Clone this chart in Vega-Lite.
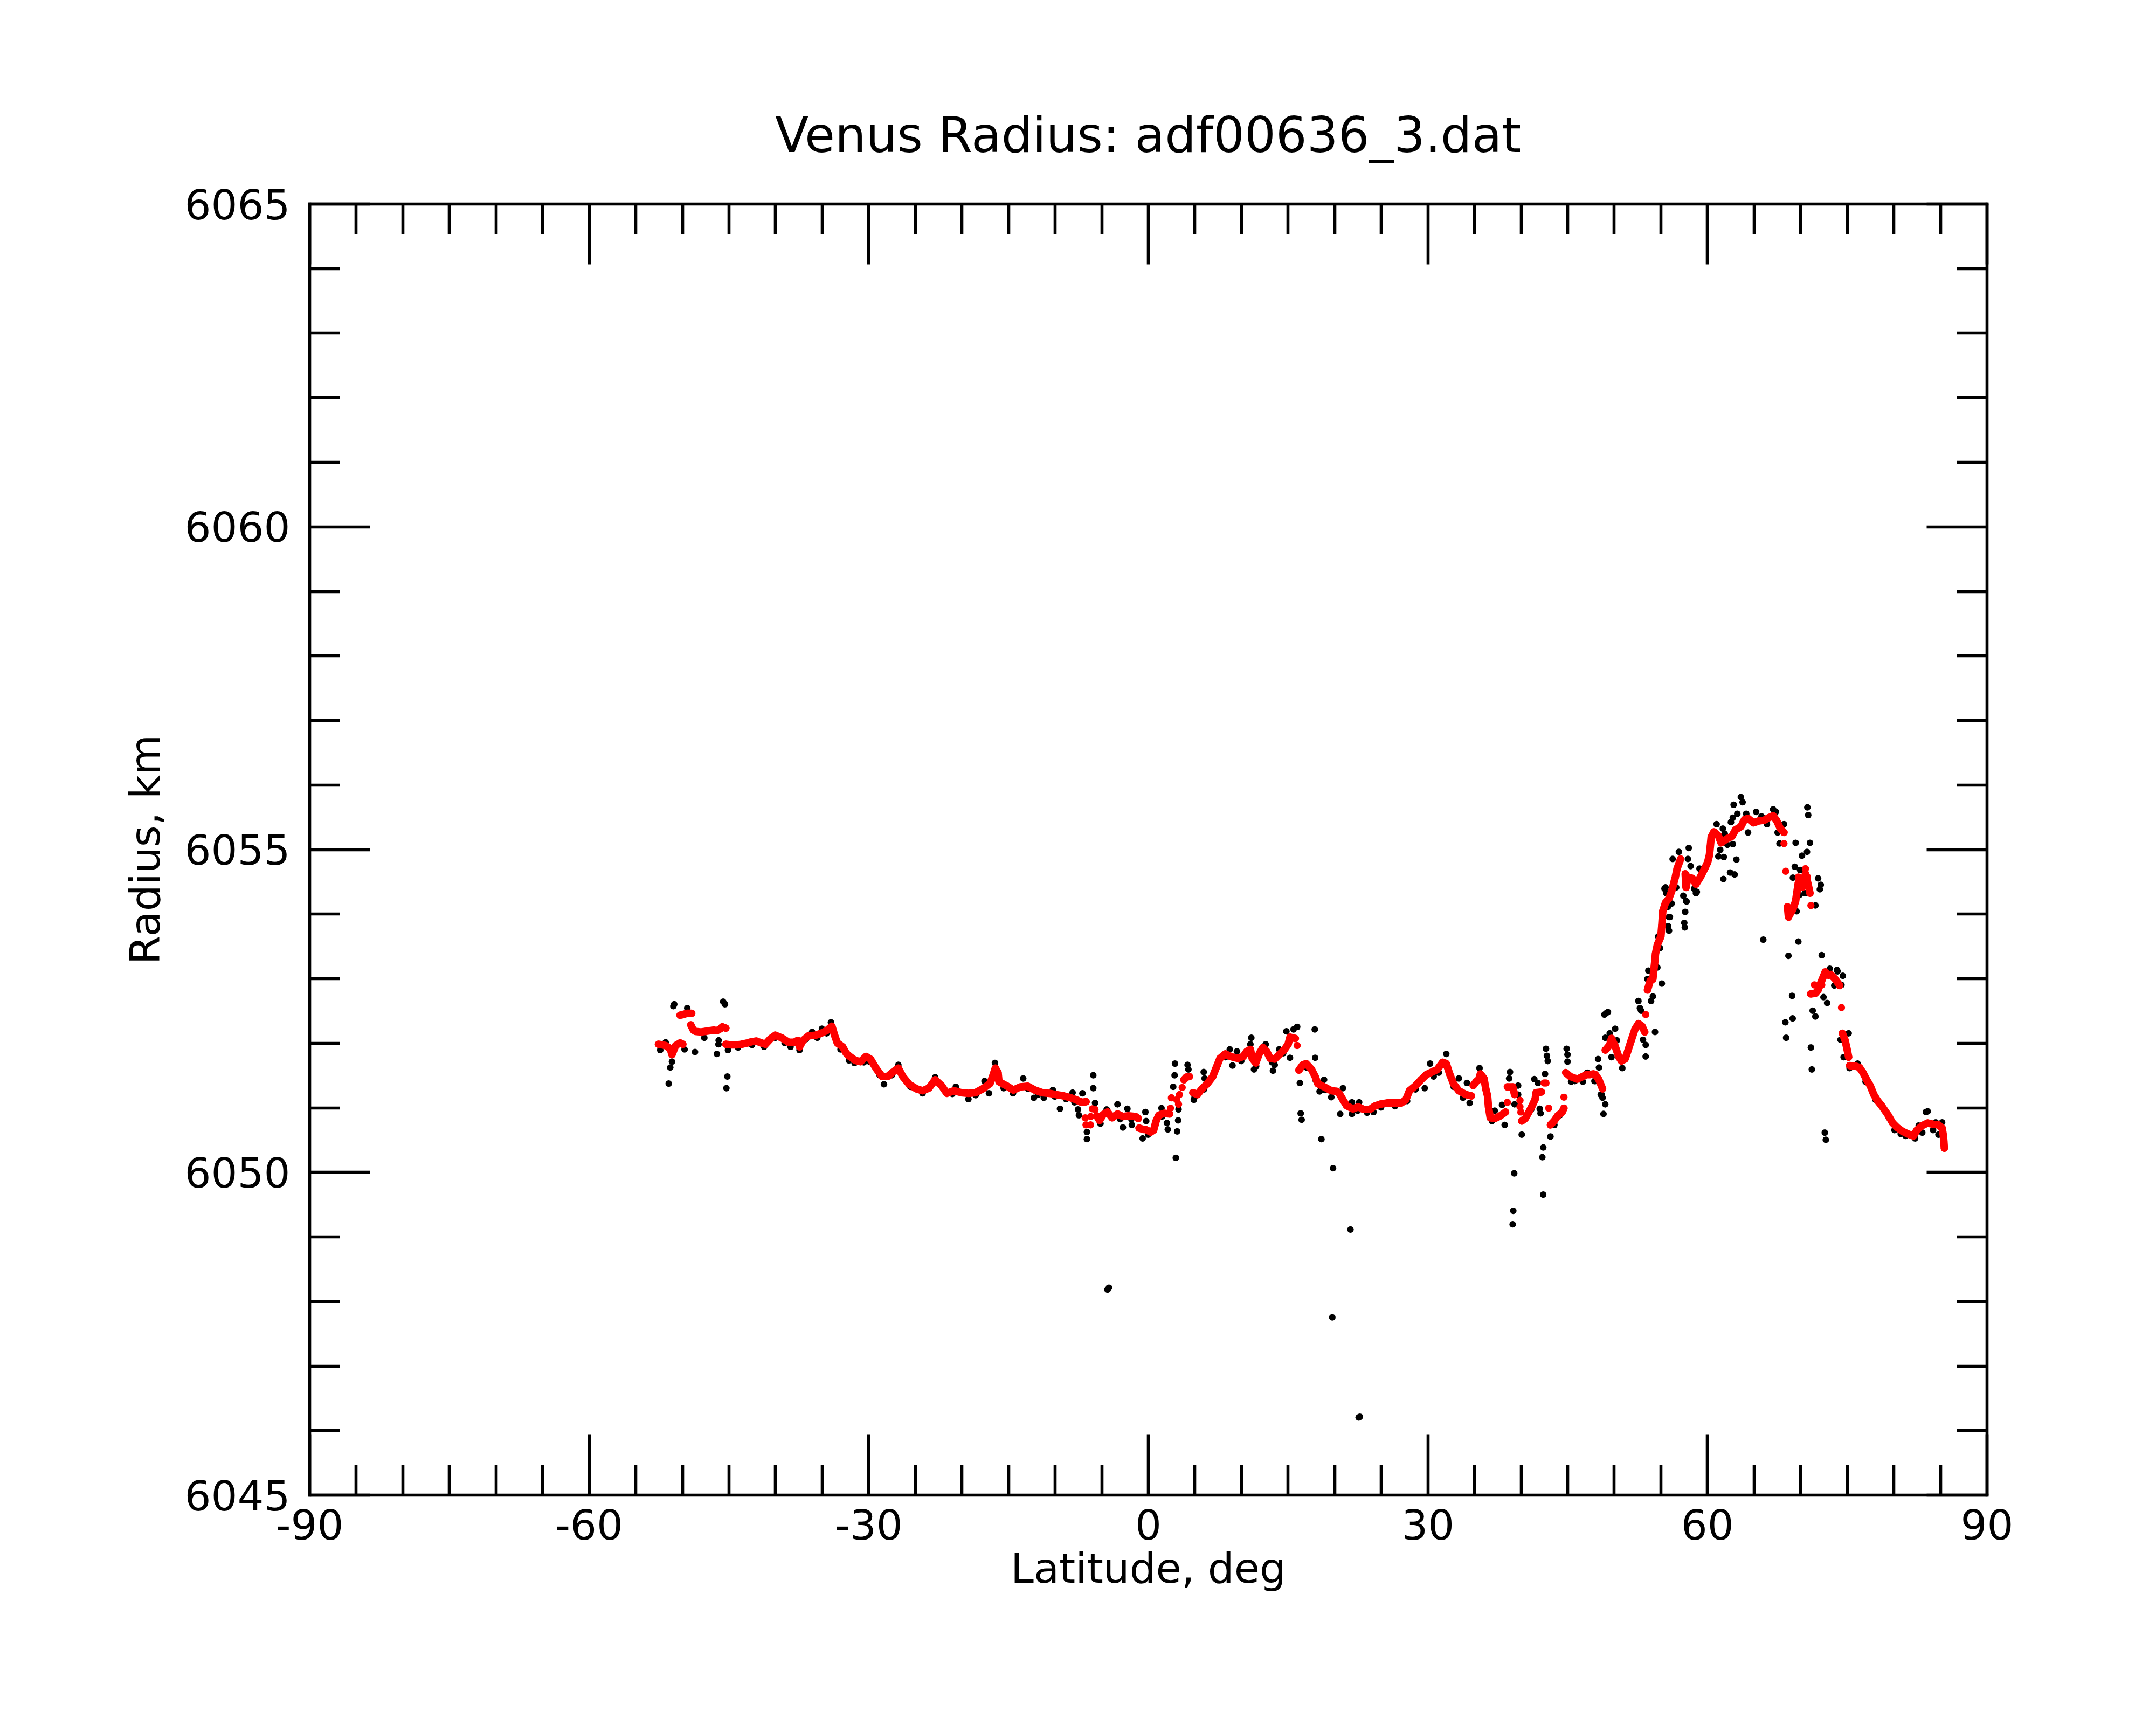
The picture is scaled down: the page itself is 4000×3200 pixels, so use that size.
{
  "$schema": "https://vega.github.io/schema/vega-lite/v6.json",
  "description": "Venus radius vs latitude, raw (black) and smoothed (red) samples",
  "autosize": {"type": "none"},
  "padding": {"left": 574, "top": 378, "right": 314, "bottom": 427},
  "width": 3112,
  "height": 2395,
  "background": "white",
  "config": {"view": {"stroke": null}},
  "title": {"text": "Venus Radius: adf00636_3.dat", "font": "DejaVu Sans", "fontSize": 91, "fontWeight": "normal", "color": "black", "baseline": "alphabetic", "anchor": "middle", "offset": -29},
  "datasets": {
    "raw": [
      {"lat":-52.35,"r":6051.89},{"lat":-51.77,"r":6052.01},{"lat":-50.94,"r":6052.57},{"lat":-50.85,"r":6052.6},{"lat":-49.45,"r":6052.54},
      {"lat":-49.74,"r":6051.9},{"lat":-48.62,"r":6051.86},{"lat":-47.62,"r":6052.08},{"lat":-46.27,"r":6051.83},{"lat":-46.08,"r":6052.04},
      {"lat":-46.1,"r":6051.98},{"lat":-45.6,"r":6052.64},{"lat":-45.4,"r":6052.6},{"lat":-45.08,"r":6051.89},{"lat":-51.09,"r":6051.71},
      {"lat":-51.28,"r":6051.62},{"lat":-51.44,"r":6051.37},{"lat":-45.15,"r":6051.48},{"lat":-45.25,"r":6051.3},{"lat":-38.37,"r":6051.94},
      {"lat":-37.4,"r":6051.89},{"lat":-36.05,"r":6052.17},{"lat":-35.0,"r":6052.22},{"lat":-34.03,"r":6052.32},{"lat":-32.1,"r":6051.73},
      {"lat":-28.34,"r":6051.36},{"lat":-44.0,"r":6051.93},{"lat":-42.5,"r":6051.97},{"lat":-41.2,"r":6051.94},{"lat":-40.0,"r":6052.08},
      {"lat":-39.0,"r":6052.0},{"lat":-36.7,"r":6052.06},{"lat":-35.5,"r":6052.08},{"lat":-34.5,"r":6052.15},{"lat":-33.0,"r":6051.9},
      {"lat":-31.5,"r":6051.69},{"lat":-30.5,"r":6051.7},{"lat":-29.9,"r":6051.71},{"lat":-28.8,"r":6051.5},
      {"lat":-26.8,"r":6051.66},{"lat":-22.85,"r":6051.47},{"lat":-20.63,"r":6051.32},{"lat":-19.28,"r":6051.13},{"lat":-17.55,"r":6051.41},
      {"lat":-17.07,"r":6051.22},{"lat":-16.43,"r":6051.69},{"lat":-13.4,"r":6051.45},{"lat":-12.25,"r":6051.15},{"lat":-11.19,"r":6051.15},
      {"lat":-10.22,"r":6051.27},{"lat":-9.45,"r":6050.98},{"lat":-8.1,"r":6051.23},{"lat":-7.04,"r":6051.22},{"lat":-7.52,"r":6050.97},
      {"lat":-7.42,"r":6050.88},{"lat":-5.88,"r":6051.5},{"lat":-5.88,"r":6051.3},{"lat":-5.69,"r":6051.07},{"lat":-6.56,"r":6050.62},
      {"lat":-6.56,"r":6050.51},{"lat":-4.44,"r":6050.97},{"lat":-5.11,"r":6050.75},
      {"lat":-27.5,"r":6051.5},{"lat":-25.5,"r":6051.32},{"lat":-24.2,"r":6051.22},{"lat":-22.0,"r":6051.3},{"lat":-21.0,"r":6051.21},
      {"lat":-18.5,"r":6051.19},{"lat":-15.5,"r":6051.3},{"lat":-14.5,"r":6051.22},{"lat":-12.9,"r":6051.29},{"lat":-11.8,"r":6051.2},
      {"lat":-10.0,"r":6051.17},{"lat":-8.8,"r":6051.13},{"lat":-7.9,"r":6051.08},
      {"lat":-4.35,"r":6048.18},{"lat":-4.2,"r":6048.21},
      {"lat":-3.28,"r":6051.05},{"lat":-2.7,"r":6050.69},{"lat":-2.22,"r":6050.98},{"lat":-1.74,"r":6050.73},{"lat":-0.29,"r":6050.93},
      {"lat":-0.58,"r":6050.52},{"lat":-0.2,"r":6050.79},{"lat":1.44,"r":6050.99},{"lat":2.02,"r":6050.76},{"lat":2.12,"r":6050.66},
      {"lat":2.89,"r":6051.68},{"lat":2.85,"r":6051.5},{"lat":2.7,"r":6051.32},{"lat":3.27,"r":6050.97},{"lat":3.23,"r":6050.8},
      {"lat":3.12,"r":6050.63},{"lat":2.98,"r":6050.22},{"lat":4.24,"r":6051.66},{"lat":4.33,"r":6051.59},{"lat":5.97,"r":6051.55},
      {"lat":6.07,"r":6051.45},{"lat":4.91,"r":6051.12},{"lat":8.77,"r":6051.9},{"lat":9.54,"r":6051.87},{"lat":9.06,"r":6051.65},
      {"lat":11.08,"r":6052.08},{"lat":10.98,"r":6051.98},{"lat":11.37,"r":6051.59},{"lat":12.62,"r":6051.98},{"lat":13.4,"r":6051.57},
      {"lat":13.59,"r":6051.66},{"lat":14.07,"r":6051.9},{"lat":14.84,"r":6052.18},{"lat":15.61,"r":6052.21},{"lat":16.0,"r":6052.25},
      {"lat":15.23,"r":6051.77},{"lat":17.89,"r":6052.21},{"lat":17.93,"r":6051.77},{"lat":16.29,"r":6051.38},{"lat":16.38,"r":6050.91},
      {"lat":16.48,"r":6050.81},{"lat":18.6,"r":6050.51},{"lat":19.85,"r":6050.06},{"lat":18.89,"r":6051.43},{"lat":18.41,"r":6051.25},
      {"lat":20.91,"r":6051.3},{"lat":20.62,"r":6050.9},{"lat":19.66,"r":6051.16},
      {"lat":19.77,"r":6047.75},{"lat":22.73,"r":6046.21},{"lat":22.6,"r":6046.2},{"lat":21.72,"r":6049.11},
      {"lat":-4.0,"r":6050.88},{"lat":-3.0,"r":6050.82},{"lat":-1.8,"r":6050.82},{"lat":0.0,"r":6050.58},{"lat":1.5,"r":6050.86},
      {"lat":5.0,"r":6051.16},{"lat":6.0,"r":6051.28},{"lat":7.5,"r":6051.66},{"lat":8.3,"r":6051.78},{"lat":10.0,"r":6051.72},
      {"lat":11.6,"r":6051.64},{"lat":12.5,"r":6051.88},{"lat":13.3,"r":6051.7},{"lat":14.5,"r":6051.84},{"lat":17.0,"r":6051.62},
      {"lat":18.0,"r":6051.42},{"lat":19.0,"r":6051.27},
      {"lat":21.88,"r":6051.08},{"lat":21.88,"r":6050.9},{"lat":22.65,"r":6051.08},{"lat":24.19,"r":6050.93},{"lat":30.26,"r":6051.68},
      {"lat":29.69,"r":6051.3},{"lat":30.65,"r":6051.48},{"lat":32.0,"r":6051.83},{"lat":33.35,"r":6051.45},{"lat":34.22,"r":6051.38},
      {"lat":34.51,"r":6051.07},{"lat":35.57,"r":6051.61},{"lat":37.2,"r":6050.95},{"lat":37.98,"r":6051.04},{"lat":38.27,"r":6050.73},
      {"lat":38.84,"r":6051.55},{"lat":38.75,"r":6051.45},{"lat":39.71,"r":6051.34},{"lat":39.71,"r":6051.2},{"lat":39.33,"r":6051.05},
      {"lat":40.1,"r":6050.58},{"lat":39.29,"r":6049.98},{"lat":39.19,"r":6049.4},{"lat":39.13,"r":6049.19},{"lat":41.45,"r":6051.44},
      {"lat":41.83,"r":6051.38},{"lat":41.16,"r":6050.98},{"lat":42.03,"r":6050.98},{"lat":42.12,"r":6050.91},{"lat":42.7,"r":6051.91},
      {"lat":42.8,"r":6051.8},{"lat":42.89,"r":6051.72},{"lat":42.6,"r":6051.52},{"lat":42.41,"r":6050.38},{"lat":42.31,"r":6050.23},
      {"lat":42.4,"r":6049.65},{"lat":43.18,"r":6050.55},{"lat":44.92,"r":6051.91},{"lat":45.01,"r":6051.82},{"lat":45.01,"r":6051.71},
      {"lat":45.4,"r":6051.4},{"lat":46.65,"r":6051.4},{"lat":47.13,"r":6051.54},{"lat":48.0,"r":6051.41},{"lat":48.29,"r":6051.75},
      {"lat":48.39,"r":6051.62},{"lat":48.58,"r":6051.2},{"lat":49.06,"r":6051.05},{"lat":48.87,"r":6050.9},{"lat":48.97,"r":6052.44},
      {"lat":49.06,"r":6052.08},
      {"lat":22.5,"r":6050.95},{"lat":23.5,"r":6050.92},{"lat":25.0,"r":6051.0},{"lat":26.5,"r":6051.02},{"lat":27.8,"r":6051.1},
      {"lat":28.7,"r":6051.28},{"lat":31.2,"r":6051.54},{"lat":32.8,"r":6051.32},{"lat":33.8,"r":6051.15},{"lat":36.9,"r":6050.79},
      {"lat":43.6,"r":6050.73},{"lat":44.2,"r":6050.88},{"lat":45.8,"r":6051.41},
      {"lat":47.9,"r":6051.41},{"lat":48.67,"r":6051.2},{"lat":48.77,"r":6051.15},{"lat":49.15,"r":6052.46},{"lat":49.35,"r":6052.48},
      {"lat":49.54,"r":6052.15},{"lat":50.12,"r":6052.22},{"lat":49.73,"r":6051.78},{"lat":50.31,"r":6052.04},{"lat":50.89,"r":6051.61},
      {"lat":52.62,"r":6052.65},{"lat":52.78,"r":6052.54},{"lat":52.91,"r":6052.5},{"lat":53.11,"r":6052.05},{"lat":53.4,"r":6051.97},
      {"lat":53.4,"r":6051.79},{"lat":54.4,"r":6052.17},{"lat":53.98,"r":6052.65},{"lat":54.17,"r":6052.72},{"lat":53.59,"r":6052.99},
      {"lat":55.13,"r":6052.92},{"lat":53.69,"r":6053.12},{"lat":54.65,"r":6053.17},{"lat":54.94,"r":6053.47},{"lat":54.75,"r":6053.65},
      {"lat":55.9,"r":6053.74},{"lat":55.8,"r":6053.81},{"lat":55.9,"r":6053.95},{"lat":55.8,"r":6054.11},{"lat":57.44,"r":6054.28},
      {"lat":57.79,"r":6054.19},{"lat":57.64,"r":6054.03},{"lat":57.54,"r":6053.86},{"lat":57.6,"r":6053.79},{"lat":55.52,"r":6054.41},
      {"lat":56.67,"r":6054.41},{"lat":58.89,"r":6054.34},{"lat":66.02,"r":6053.6},{"lat":69.78,"r":6053.57},{"lat":68.72,"r":6053.35},
      {"lat":69.11,"r":6052.73},{"lat":69.17,"r":6052.38},{"lat":68.39,"r":6052.32},{"lat":68.47,"r":6052.08},{"lat":69.59,"r":6054.04},
      {"lat":63.61,"r":6055.81},{"lat":63.8,"r":6055.73},{"lat":62.84,"r":6055.69},{"lat":63.23,"r":6055.55},{"lat":62.75,"r":6055.49},
      {"lat":62.55,"r":6055.42},{"lat":64.19,"r":6055.55},{"lat":65.25,"r":6055.58},{"lat":67.08,"r":6055.62},{"lat":67.37,"r":6055.58},
      {"lat":68.24,"r":6055.39},{"lat":67.56,"r":6055.26},{"lat":67.76,"r":6055.09},{"lat":69.49,"r":6055.1},{"lat":70.75,"r":6055.65},
      {"lat":70.84,"r":6055.53},{"lat":71.03,"r":6055.1},{"lat":70.71,"r":6054.96},{"lat":70.17,"r":6054.9},{"lat":69.4,"r":6054.73},
      {"lat":69.97,"r":6054.68},{"lat":69.2,"r":6054.56},{"lat":71.9,"r":6054.55},{"lat":72.19,"r":6054.45},{"lat":72.09,"r":6054.38},
      {"lat":70.46,"r":6054.32},{"lat":69.88,"r":6054.29},{"lat":71.61,"r":6054.13},{"lat":72.29,"r":6053.36},{"lat":73.16,"r":6053.15},
      {"lat":73.93,"r":6053.13},{"lat":61.01,"r":6055.39},{"lat":61.68,"r":6055.32},{"lat":61.88,"r":6055.24},{"lat":62.75,"r":6055.08},
      {"lat":62.17,"r":6055.07},{"lat":61.4,"r":6054.99},{"lat":61.2,"r":6054.89},{"lat":61.78,"r":6054.88},{"lat":63.13,"r":6054.84},
      {"lat":62.46,"r":6054.64},{"lat":62.94,"r":6054.61},{"lat":61.74,"r":6054.54},{"lat":64.38,"r":6055.26},{"lat":65.83,"r":6055.51},
      {"lat":66.41,"r":6055.39},{"lat":58.02,"r":6055.02},{"lat":56.96,"r":6054.96},{"lat":56.29,"r":6054.85},{"lat":57.93,"r":6054.85},
      {"lat":58.22,"r":6054.74},{"lat":59.18,"r":6054.7},{"lat":58.79,"r":6054.32},{"lat":58.6,"r":6054.39},{"lat":57.73,"r":6054.2},
      {"lat":56.0,"r":6053.95},{"lat":55.42,"r":6054.39},{"lat":55.61,"r":6054.32},{"lat":56.19,"r":6054.16},
      {"lat":73.99,"r":6053.11},{"lat":74.56,"r":6053.04},{"lat":73.64,"r":6052.89},{"lat":74.41,"r":6052.9},{"lat":72.48,"r":6052.71},
      {"lat":72.87,"r":6052.62},{"lat":71.32,"r":6052.5},{"lat":71.61,"r":6052.41},{"lat":71.13,"r":6051.93},{"lat":71.23,"r":6051.59},
      {"lat":75.18,"r":6052.15},{"lat":74.31,"r":6052.05},{"lat":74.64,"r":6051.78},{"lat":75.28,"r":6051.61},{"lat":72.62,"r":6050.61},
      {"lat":72.73,"r":6050.5},{"lat":76.14,"r":6051.68},{"lat":78.07,"r":6051.12},{"lat":78.94,"r":6050.98},{"lat":83.47,"r":6050.93},
      {"lat":83.66,"r":6050.94},{"lat":80.1,"r":6050.65},{"lat":80.77,"r":6050.59},{"lat":82.31,"r":6050.52},{"lat":82.7,"r":6050.72},
      {"lat":83.08,"r":6050.61},{"lat":84.24,"r":6050.65},{"lat":84.53,"r":6050.77},{"lat":85.21,"r":6050.77},{"lat":84.82,"r":6050.58},
      {"lat":77.0,"r":6051.4},{"lat":79.5,"r":6050.84},{"lat":81.3,"r":6050.56}
    ],
    "smooth": [
      {"lat":-52.54,"r":6051.98,"seg":1},{"lat":-52.1,"r":6051.97,"seg":1},{"lat":-51.77,"r":6051.96,"seg":1},{"lat":-51.28,"r":6051.91,"seg":1},
      {"lat":-51.09,"r":6051.82,"seg":1},{"lat":-50.7,"r":6051.96,"seg":1},{"lat":-50.22,"r":6052.0,"seg":1},{"lat":-49.93,"r":6051.98,"seg":1},
      {"lat":-50.22,"r":6052.43,"seg":2},{"lat":-49.9,"r":6052.44,"seg":2},{"lat":-49.45,"r":6052.46,"seg":2},{"lat":-48.97,"r":6052.46,"seg":2},
      {"lat":-49.07,"r":6052.28,"seg":3},{"lat":-48.8,"r":6052.2,"seg":3},{"lat":-48.58,"r":6052.18,"seg":3},{"lat":-48.0,"r":6052.17,"seg":3},
      {"lat":-47.5,"r":6052.18,"seg":3},{"lat":-47.04,"r":6052.19,"seg":3},{"lat":-46.6,"r":6052.2,"seg":3},{"lat":-46.27,"r":6052.19,"seg":3},
      {"lat":-45.9,"r":6052.22,"seg":3},{"lat":-45.69,"r":6052.25,"seg":3},{"lat":-45.31,"r":6052.23,"seg":3},
      {"lat":-45.31,"r":6051.98,"seg":4},{"lat":-44.7,"r":6051.97,"seg":4},{"lat":-44.15,"r":6051.97,"seg":4},{"lat":-43.6,"r":6051.98,"seg":4},
      {"lat":-42.99,"r":6052.0,"seg":4},{"lat":-42.5,"r":6052.02,"seg":4},{"lat":-42.03,"r":6052.03,"seg":4},{"lat":-41.5,"r":6052.0,"seg":4},
      {"lat":-41.07,"r":6051.98,"seg":4},{"lat":-40.49,"r":6052.07,"seg":4},{"lat":-40.0,"r":6052.12,"seg":4},{"lat":-39.33,"r":6052.08,"seg":4},
      {"lat":-38.56,"r":6052.01,"seg":4},{"lat":-37.98,"r":6052.01,"seg":4},{"lat":-37.6,"r":6052.04,"seg":4},{"lat":-37.4,"r":6051.94,"seg":4},
      {"lat":-37.02,"r":6052.04,"seg":4},{"lat":-36.44,"r":6052.11,"seg":4},{"lat":-35.67,"r":6052.12,"seg":4},{"lat":-35.09,"r":6052.15,"seg":4},
      {"lat":-34.51,"r":6052.19,"seg":4},{"lat":-33.93,"r":6052.26,"seg":4},{"lat":-33.64,"r":6052.12,"seg":4},{"lat":-33.35,"r":6052.0,"seg":4},
      {"lat":-32.78,"r":6051.94,"seg":4},{"lat":-32.39,"r":6051.84,"seg":4},{"lat":-32.0,"r":6051.79,"seg":4},{"lat":-31.43,"r":6051.73,"seg":4},
      {"lat":-30.85,"r":6051.71,"seg":4},{"lat":-30.27,"r":6051.79,"seg":4},{"lat":-29.79,"r":6051.75,"seg":4},{"lat":-29.5,"r":6051.68,"seg":4},
      {"lat":-29.11,"r":6051.59,"seg":4},{"lat":-28.54,"r":6051.48,"seg":4},{"lat":-27.96,"r":6051.48,"seg":4},{"lat":-27.38,"r":6051.55,"seg":4},
      {"lat":-26.8,"r":6051.61,"seg":4},{"lat":-26.32,"r":6051.48,"seg":4},{"lat":-25.64,"r":6051.36,"seg":4},{"lat":-24.87,"r":6051.29,"seg":4},
      {"lat":-24.2,"r":6051.26,"seg":4},{"lat":-23.52,"r":6051.3,"seg":4},{"lat":-22.85,"r":6051.43,"seg":4},{"lat":-22.17,"r":6051.34,"seg":4},
      {"lat":-21.6,"r":6051.22,"seg":4},{"lat":-20.82,"r":6051.26,"seg":4},{"lat":-20.05,"r":6051.23,"seg":4},{"lat":-19.28,"r":6051.22,"seg":4},
      {"lat":-18.51,"r":6051.23,"seg":4},{"lat":-17.74,"r":6051.29,"seg":4},{"lat":-16.97,"r":6051.37,"seg":4},{"lat":-16.68,"r":6051.48,"seg":4},
      {"lat":-16.39,"r":6051.61,"seg":4},{"lat":-16.1,"r":6051.54,"seg":4},{"lat":-16.0,"r":6051.4,"seg":4},{"lat":-15.23,"r":6051.34,"seg":4},
      {"lat":-14.46,"r":6051.27,"seg":4},{"lat":-13.69,"r":6051.32,"seg":4},{"lat":-12.92,"r":6051.33,"seg":4},{"lat":-12.15,"r":6051.27,"seg":4},
      {"lat":-11.38,"r":6051.23,"seg":4},{"lat":-10.61,"r":6051.22,"seg":4},{"lat":-9.84,"r":6051.2,"seg":4},{"lat":-9.06,"r":6051.18,"seg":4},
      {"lat":-8.29,"r":6051.15,"seg":4},{"lat":-7.72,"r":6051.12,"seg":4},{"lat":-7.14,"r":6051.08,"seg":4},{"lat":-6.65,"r":6051.09,"seg":4},
      {"lat":-6.75,"r":6050.84,"seg":0},{"lat":-6.66,"r":6050.73,"seg":0},{"lat":-6.17,"r":6050.86,"seg":0},{"lat":-6.17,"r":6050.73,"seg":0},
      {"lat":-5.98,"r":6050.98,"seg":0},{"lat":-5.69,"r":6050.97,"seg":0},
      {"lat":-5.5,"r":6050.87,"seg":5},{"lat":-5.21,"r":6050.8,"seg":5},{"lat":-4.82,"r":6050.89,"seg":5},{"lat":-4.34,"r":6050.93,"seg":5},
      {"lat":-3.86,"r":6050.84,"seg":5},{"lat":-3.28,"r":6050.9,"seg":5},{"lat":-2.7,"r":6050.86,"seg":5},{"lat":-2.12,"r":6050.87,"seg":5},
      {"lat":-1.35,"r":6050.86,"seg":5},{"lat":-1.06,"r":6050.83,"seg":5},
      {"lat":-0.97,"r":6050.68,"seg":6},{"lat":-0.5,"r":6050.66,"seg":6},{"lat":-0.29,"r":6050.66,"seg":6},{"lat":0.28,"r":6050.62,"seg":6},
      {"lat":0.6,"r":6050.65,"seg":6},{"lat":0.86,"r":6050.79,"seg":6},{"lat":1.15,"r":6050.88,"seg":6},{"lat":1.73,"r":6050.91,"seg":6},
      {"lat":2.31,"r":6050.9,"seg":6},
      {"lat":2.41,"r":6050.99,"seg":0},{"lat":3.27,"r":6051.05,"seg":0},{"lat":2.5,"r":6051.15,"seg":0},{"lat":3.08,"r":6051.12,"seg":0},
      {"lat":3.37,"r":6051.2,"seg":0},{"lat":3.66,"r":6051.31,"seg":0},
      {"lat":3.85,"r":6051.43,"seg":7},{"lat":4.1,"r":6051.47,"seg":7},{"lat":4.43,"r":6051.48,"seg":7},
      {"lat":4.81,"r":6051.23,"seg":8},{"lat":5.3,"r":6051.2,"seg":8},{"lat":5.78,"r":6051.29,"seg":8},{"lat":6.36,"r":6051.37,"seg":8},
      {"lat":6.94,"r":6051.48,"seg":8},{"lat":7.32,"r":6051.62,"seg":8},{"lat":7.71,"r":6051.76,"seg":8},{"lat":8.29,"r":6051.83,"seg":8},
      {"lat":8.86,"r":6051.79,"seg":8},{"lat":9.64,"r":6051.76,"seg":8},{"lat":10.21,"r":6051.79,"seg":8},{"lat":10.6,"r":6051.87,"seg":8},
      {"lat":10.98,"r":6051.9,"seg":8},{"lat":11.18,"r":6051.76,"seg":8},{"lat":11.56,"r":6051.69,"seg":8},{"lat":11.95,"r":6051.84,"seg":8},
      {"lat":12.33,"r":6051.93,"seg":8},{"lat":12.72,"r":6051.87,"seg":8},{"lat":13.11,"r":6051.76,"seg":8},{"lat":13.59,"r":6051.75,"seg":8},
      {"lat":14.07,"r":6051.82,"seg":8},{"lat":14.65,"r":6051.9,"seg":8},{"lat":15.03,"r":6051.98,"seg":8},{"lat":15.23,"r":6052.09,"seg":8},
      {"lat":15.8,"r":6052.07,"seg":8},
      {"lat":16.0,"r":6051.96,"seg":0},
      {"lat":16.19,"r":6051.58,"seg":9},{"lat":16.6,"r":6051.66,"seg":9},{"lat":16.96,"r":6051.68,"seg":9},{"lat":17.54,"r":6051.59,"seg":9},
      {"lat":17.93,"r":6051.48,"seg":9},{"lat":18.21,"r":6051.37,"seg":9},{"lat":18.89,"r":6051.32,"seg":9},{"lat":19.66,"r":6051.26,"seg":9},
      {"lat":20.24,"r":6051.25,"seg":9},{"lat":20.5,"r":6051.22,"seg":9},{"lat":20.91,"r":6051.12,"seg":9},{"lat":21.3,"r":6051.03,"seg":9},
      {"lat":21.98,"r":6050.98,"seg":9},{"lat":22.55,"r":6051.01,"seg":9},{"lat":23.13,"r":6050.97,"seg":9},{"lat":23.81,"r":6050.97,"seg":9},
      {"lat":24.29,"r":6051.02,"seg":9},{"lat":24.87,"r":6051.05,"seg":9},{"lat":25.64,"r":6051.07,"seg":9},{"lat":26.41,"r":6051.07,"seg":9},
      {"lat":27.18,"r":6051.07,"seg":9},{"lat":27.66,"r":6051.12,"seg":9},{"lat":28.05,"r":6051.26,"seg":9},{"lat":28.72,"r":6051.34,"seg":9},
      {"lat":29.3,"r":6051.43,"seg":9},{"lat":29.88,"r":6051.51,"seg":9},{"lat":30.46,"r":6051.55,"seg":9},{"lat":31.04,"r":6051.59,"seg":9},
      {"lat":31.61,"r":6051.7,"seg":9},{"lat":32.0,"r":6051.68,"seg":9},{"lat":32.39,"r":6051.51,"seg":9},{"lat":32.77,"r":6051.37,"seg":9},
      {"lat":33.35,"r":6051.26,"seg":9},{"lat":34.12,"r":6051.2,"seg":9},{"lat":34.7,"r":6051.18,"seg":9},
      {"lat":34.89,"r":6051.34,"seg":10},{"lat":35.2,"r":6051.4,"seg":10},{"lat":35.47,"r":6051.43,"seg":10},{"lat":35.66,"r":6051.52,"seg":10},
      {"lat":36.05,"r":6051.45,"seg":10},{"lat":36.24,"r":6051.29,"seg":10},{"lat":36.43,"r":6051.18,"seg":10},{"lat":36.53,"r":6051.01,"seg":10},
      {"lat":36.72,"r":6050.84,"seg":10},{"lat":37.2,"r":6050.83,"seg":10},{"lat":37.78,"r":6050.87,"seg":10},{"lat":38.36,"r":6050.93,"seg":10},
      {"lat":38.56,"r":6051.08,"seg":0},
      {"lat":38.56,"r":6051.32,"seg":11},{"lat":39.13,"r":6051.32,"seg":11},{"lat":39.33,"r":6051.2,"seg":11},
      {"lat":39.91,"r":6051.11,"seg":0},{"lat":39.91,"r":6051.01,"seg":0},{"lat":40.0,"r":6050.93,"seg":0},
      {"lat":40.1,"r":6050.79,"seg":12},{"lat":40.48,"r":6050.83,"seg":12},{"lat":40.87,"r":6050.93,"seg":12},{"lat":41.26,"r":6051.04,"seg":12},
      {"lat":41.54,"r":6051.13,"seg":12},{"lat":41.64,"r":6051.23,"seg":12},{"lat":42.22,"r":6051.24,"seg":12},
      {"lat":42.5,"r":6051.38,"seg":0},{"lat":42.7,"r":6051.38,"seg":0},{"lat":42.99,"r":6050.99,"seg":0},
      {"lat":43.18,"r":6050.73,"seg":13},{"lat":43.57,"r":6050.79,"seg":13},{"lat":43.95,"r":6050.87,"seg":13},{"lat":44.44,"r":6050.93,"seg":13},
      {"lat":44.63,"r":6050.99,"seg":13},
      {"lat":44.63,"r":6051.16,"seg":0},
      {"lat":44.82,"r":6051.54,"seg":14},{"lat":45.3,"r":6051.48,"seg":14},{"lat":46.07,"r":6051.44,"seg":14},{"lat":46.5,"r":6051.47,"seg":14},
      {"lat":47.04,"r":6051.51,"seg":14},{"lat":47.42,"r":6051.51,"seg":14},{"lat":47.81,"r":6051.52,"seg":14},{"lat":48.0,"r":6051.51,"seg":14},
      {"lat":48.38,"r":6051.43,"seg":14},{"lat":48.77,"r":6051.29,"seg":14},
      {"lat":49.06,"r":6051.89,"seg":15},{"lat":49.15,"r":6051.9,"seg":15},{"lat":49.54,"r":6051.97,"seg":15},{"lat":49.73,"r":6052.07,"seg":15},
      {"lat":50.12,"r":6051.95,"seg":15},{"lat":50.5,"r":6051.79,"seg":15},{"lat":50.79,"r":6051.72,"seg":15},{"lat":51.18,"r":6051.75,"seg":15},
      {"lat":51.47,"r":6051.87,"seg":15},{"lat":51.85,"r":6052.04,"seg":15},{"lat":52.24,"r":6052.21,"seg":15},{"lat":52.62,"r":6052.3,"seg":15},
      {"lat":53.01,"r":6052.26,"seg":15},{"lat":53.3,"r":6052.17,"seg":15},
      {"lat":53.4,"r":6052.44,"seg":0},
      {"lat":53.59,"r":6052.82,"seg":16},{"lat":53.88,"r":6052.96,"seg":16},{"lat":54.17,"r":6052.99,"seg":16},{"lat":54.36,"r":6053.24,"seg":16},
      {"lat":54.45,"r":6053.38,"seg":16},{"lat":54.65,"r":6053.52,"seg":16},{"lat":55.03,"r":6053.65,"seg":16},{"lat":55.13,"r":6053.82,"seg":16},
      {"lat":55.23,"r":6054.04,"seg":16},{"lat":55.52,"r":6054.17,"seg":16},{"lat":55.9,"r":6054.24,"seg":16},{"lat":56.19,"r":6054.35,"seg":16},
      {"lat":56.58,"r":6054.57,"seg":16},{"lat":56.77,"r":6054.7,"seg":16},{"lat":57.15,"r":6054.85,"seg":16},
      {"lat":57.64,"r":6054.62,"seg":17},{"lat":57.73,"r":6054.41,"seg":17},{"lat":57.93,"r":6054.57,"seg":17},{"lat":58.41,"r":6054.55,"seg":17},
      {"lat":58.79,"r":6054.46,"seg":17},{"lat":59.27,"r":6054.57,"seg":17},{"lat":59.76,"r":6054.71,"seg":17},{"lat":60.05,"r":6054.8,"seg":17},
      {"lat":60.24,"r":6054.91,"seg":17},{"lat":60.34,"r":6055.05,"seg":17},{"lat":60.43,"r":6055.19,"seg":17},{"lat":60.72,"r":6055.27,"seg":17},
      {"lat":61.2,"r":6055.21,"seg":17},{"lat":61.49,"r":6055.1,"seg":17},{"lat":62.07,"r":6055.16,"seg":17},{"lat":62.65,"r":6055.2,"seg":17},
      {"lat":63.03,"r":6055.3,"seg":17},{"lat":63.61,"r":6055.35,"seg":17},{"lat":64.0,"r":6055.46,"seg":17},{"lat":64.38,"r":6055.48,"seg":17},
      {"lat":64.96,"r":6055.41,"seg":17},{"lat":65.54,"r":6055.44,"seg":17},{"lat":66.12,"r":6055.45,"seg":17},{"lat":66.6,"r":6055.49,"seg":17},
      {"lat":67.08,"r":6055.52,"seg":17},{"lat":67.47,"r":6055.44,"seg":17},{"lat":67.85,"r":6055.32,"seg":17},{"lat":68.24,"r":6055.26,"seg":17},
      {"lat":68.24,"r":6055.09,"seg":0},{"lat":68.43,"r":6054.66,"seg":0},{"lat":69.78,"r":6054.57,"seg":0},{"lat":70.75,"r":6054.57,"seg":0},
      {"lat":70.55,"r":6054.7,"seg":0},{"lat":71.13,"r":6054.13,"seg":0},
      {"lat":68.62,"r":6054.11,"seg":18},{"lat":68.72,"r":6053.95,"seg":18},{"lat":68.9,"r":6054.0,"seg":18},{"lat":69.2,"r":6054.07,"seg":18},
      {"lat":69.49,"r":6054.2,"seg":18},{"lat":69.59,"r":6054.3,"seg":18},{"lat":69.78,"r":6054.48,"seg":18},{"lat":70.17,"r":6054.41,"seg":18},
      {"lat":70.55,"r":6054.62,"seg":18},{"lat":70.84,"r":6054.45,"seg":18},{"lat":71.03,"r":6054.32,"seg":18},
      {"lat":71.1,"r":6052.76,"seg":19},{"lat":71.6,"r":6052.77,"seg":19},{"lat":71.9,"r":6052.82,"seg":19},{"lat":72.1,"r":6052.9,"seg":19},
      {"lat":72.5,"r":6053.04,"seg":19},{"lat":72.67,"r":6053.1,"seg":19},{"lat":73.0,"r":6053.05,"seg":19},{"lat":73.25,"r":6053.06,"seg":19},
      {"lat":73.73,"r":6052.99,"seg":19},{"lat":74.22,"r":6052.89,"seg":19},
      {"lat":71.5,"r":6052.9,"seg":0},{"lat":72.3,"r":6052.9,"seg":0},{"lat":74.41,"r":6052.55,"seg":0},
      {"lat":74.51,"r":6052.15,"seg":20},{"lat":74.8,"r":6052.04,"seg":20},{"lat":75.0,"r":6051.91,"seg":20},{"lat":75.18,"r":6051.78,"seg":20},
      {"lat":75.28,"r":6051.65,"seg":21},{"lat":75.95,"r":6051.64,"seg":21},{"lat":76.34,"r":6051.62,"seg":21},{"lat":76.72,"r":6051.54,"seg":21},
      {"lat":77.11,"r":6051.43,"seg":21},{"lat":77.49,"r":6051.34,"seg":21},{"lat":77.88,"r":6051.2,"seg":21},{"lat":78.26,"r":6051.11,"seg":21},
      {"lat":78.75,"r":6051.02,"seg":21},{"lat":79.42,"r":6050.88,"seg":21},{"lat":79.9,"r":6050.76,"seg":21},{"lat":80.39,"r":6050.69,"seg":21},
      {"lat":80.96,"r":6050.63,"seg":21},{"lat":81.54,"r":6050.59,"seg":21},{"lat":82.12,"r":6050.56,"seg":21},{"lat":82.51,"r":6050.65,"seg":21},
      {"lat":83.08,"r":6050.72,"seg":21},{"lat":83.66,"r":6050.76,"seg":21},{"lat":84.24,"r":6050.74,"seg":21},{"lat":84.82,"r":6050.73,"seg":21},
      {"lat":85.21,"r":6050.68,"seg":21},{"lat":85.35,"r":6050.56,"seg":21},{"lat":85.4,"r":6050.47,"seg":21},{"lat":85.45,"r":6050.37,"seg":21}
    ]
  },
  "resolve": {"axis": {"x": "independent", "y": "independent"}},
  "layer": [
    {
      "data": {"name": "raw"},
      "mark": {"type": "circle", "size": 150, "color": "black", "opacity": 1},
      "encoding": {
        "x": {
          "field": "lat", "type": "quantitative",
          "scale": {"domain": [-90, 90], "nice": false, "zero": false},
          "axis": {
            "orient": "bottom",
            "values": [-90,-85,-80,-75,-70,-65,-60,-55,-50,-45,-40,-35,-30,-25,-20,-15,-10,-5,0,5,10,15,20,25,30,35,40,45,50,55,60,65,70,75,80,85,90],
            "tickSize": {"condition": {"test": "datum.value % 30 === 0", "value": -112}, "value": -56},
            "tickWidth": 5.6, "tickColor": "black",
            "domainColor": "black", "domainWidth": 5.6, "domainCap": "square",
            "labelExpr": "datum.value % 30 === 0 ? '' + datum.value : ''",
            "labelFont": "DejaVu Sans", "labelFontSize": 77, "labelColor": "black", "labelLimit": 0,
            "labelPadding": 194, "labelBaseline": "alphabetic",
            "labelFlush": false, "labelOverlap": false, "labelBound": false,
            "title": "Latitude, deg", "titleFont": "DejaVu Sans", "titleFontSize": 77, "titleFontWeight": "normal", "titleColor": "black",
            "titleBaseline": "alphabetic", "titleAlign": "center", "titleX": 1556, "titleY": 162,
            "grid": false
          }
        },
        "y": {
          "field": "r", "type": "quantitative",
          "scale": {"domain": [6045, 6065], "nice": false, "zero": false},
          "axis": {
            "orient": "left",
            "values": [6045,6046,6047,6048,6049,6050,6051,6052,6053,6054,6055,6056,6057,6058,6059,6060,6061,6062,6063,6064,6065],
            "tickSize": {"condition": {"test": "datum.value % 5 === 0", "value": -112}, "value": -56},
            "tickWidth": 5.6, "tickColor": "black",
            "domainColor": "black", "domainWidth": 5.6, "domainCap": "square",
            "labelExpr": "datum.value % 5 === 0 ? '' + datum.value : ''",
            "labelFont": "DejaVu Sans", "labelFontSize": 77, "labelColor": "black", "labelLimit": 0,
            "labelPadding": 148, "labelBaseline": "alphabetic", "labelOffset": 28, "labelAlign": "right",
            "labelFlush": false, "labelOverlap": false, "labelBound": false,
            "title": "Radius, km", "titleFont": "DejaVu Sans", "titleFontSize": 77, "titleFontWeight": "normal", "titleColor": "black",
            "titleBaseline": "alphabetic", "titleAlign": "center", "titleAngle": 270, "titleX": -279, "titleY": 1197.5,
            "grid": false
          }
        }
      }
    },
    {
      "data": {"name": "smooth"},
      "transform": [{"filter": "datum.seg > 0"}],
      "mark": {"type": "line", "color": "#ff0000", "strokeWidth": 14, "strokeCap": "round", "strokeJoin": "round"},
      "encoding": {
        "x": {
          "field": "lat", "type": "quantitative",
          "scale": {"domain": [-90, 90], "nice": false, "zero": false},
          "axis": {
            "orient": "top",
            "values": [-90,-85,-80,-75,-70,-65,-60,-55,-50,-45,-40,-35,-30,-25,-20,-15,-10,-5,0,5,10,15,20,25,30,35,40,45,50,55,60,65,70,75,80,85,90],
            "tickSize": {"condition": {"test": "datum.value % 30 === 0", "value": -112}, "value": -56},
            "tickWidth": 5.6, "tickColor": "black",
            "domainColor": "black", "domainWidth": 5.6, "domainCap": "square",
            "labels": false, "title": null, "grid": false
          }
        },
        "y": {
          "field": "r", "type": "quantitative",
          "scale": {"domain": [6045, 6065], "nice": false, "zero": false},
          "axis": {
            "orient": "right",
            "values": [6045,6046,6047,6048,6049,6050,6051,6052,6053,6054,6055,6056,6057,6058,6059,6060,6061,6062,6063,6064,6065],
            "tickSize": {"condition": {"test": "datum.value % 5 === 0", "value": -112}, "value": -56},
            "tickWidth": 5.6, "tickColor": "black",
            "domainColor": "black", "domainWidth": 5.6, "domainCap": "square",
            "labels": false, "title": null, "grid": false
          }
        },
        "detail": {"field": "seg", "type": "nominal"}
      }
    },
    {
      "data": {"name": "smooth"},
      "mark": {"type": "circle", "size": 180, "color": "#ff0000", "opacity": 1},
      "encoding": {
        "x": {"field": "lat", "type": "quantitative", "axis": null},
        "y": {"field": "r", "type": "quantitative", "axis": null}
      }
    }
  ]
}
